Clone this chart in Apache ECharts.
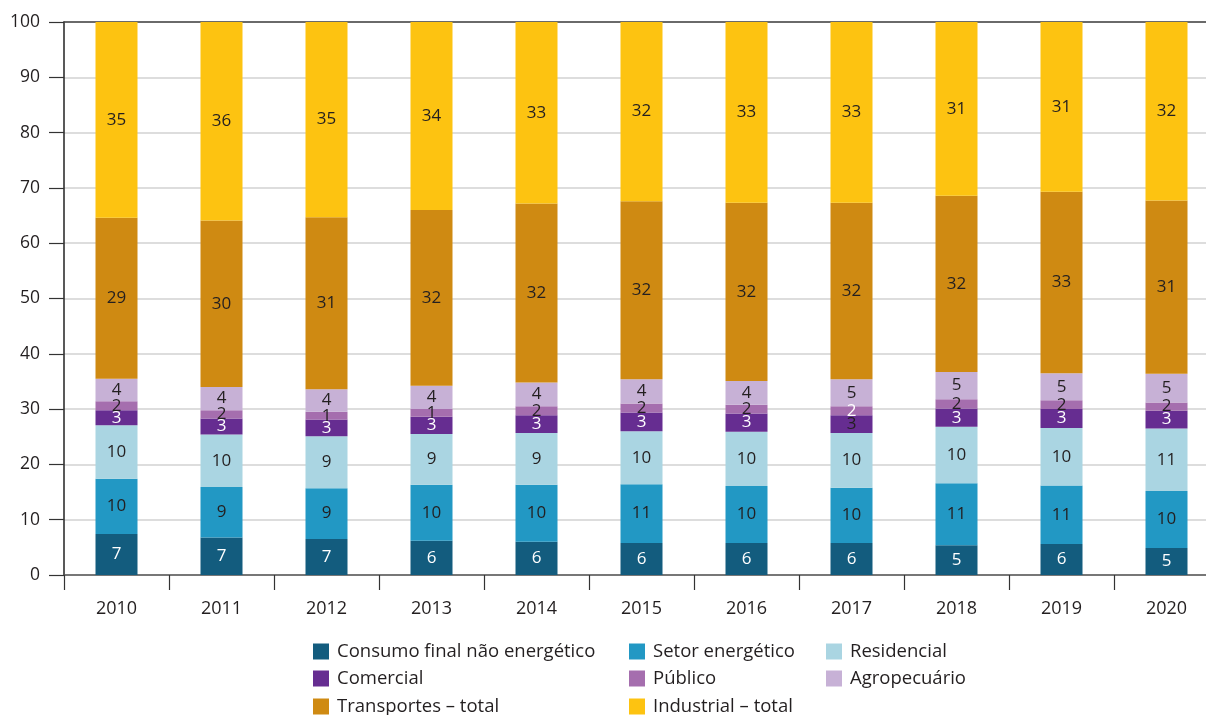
<!DOCTYPE html>
<html>
<head>
<meta charset="utf-8">
<script src="https://cdn.jsdelivr.net/npm/echarts@6/dist/echarts.min.js"></script>
<style>html,body{margin:0;padding:0;background:#fff}#c{width:1206px;height:715px}</style>
</head>
<body>
<div id="c"></div>
<script>
const years = ['2010','2011','2012','2013','2014','2015','2016','2017','2018','2019','2020'];
const consumoNaoEnergetico = [7.4, 6.8, 6.5, 6.2, 6.0, 5.8, 5.8, 5.8, 5.4, 5.6, 4.9];
const setorEnergetico      = [10.0, 9.1, 9.2, 10.1, 10.3, 10.6, 10.3, 10.0, 11.2, 10.6, 10.3];
const residencial          = [9.7, 9.5, 9.4, 9.2, 9.4, 9.6, 9.8, 9.9, 10.2, 10.4, 11.3];
const comercial            = [2.7, 2.9, 3.0, 3.1, 3.2, 3.4, 3.3, 3.2, 3.3, 3.4, 3.2];
const publico              = [1.6, 1.5, 1.4, 1.4, 1.6, 1.6, 1.6, 1.6, 1.7, 1.6, 1.5];
const agropecuario         = [4.1, 4.2, 4.1, 4.2, 4.3, 4.4, 4.3, 4.9, 4.9, 4.9, 5.2];
const transportes          = [29.1, 30.1, 31.1, 31.8, 32.4, 32.2, 32.2, 31.9, 31.9, 32.8, 31.3];
const industrial           = [35.4, 35.9, 35.3, 34.0, 32.8, 32.4, 32.7, 32.7, 31.4, 30.7, 32.3];
const yTicks = [0,10,20,30,40,50,60,70,80,90,100];

const seriesDefs = [
  {name:'Consumo final não energético', data:consumoNaoEnergetico, color:'#135c7e', lbl:'#ffffff'},
  {name:'Setor energético', data:setorEnergetico, color:'#2298c4', lbl:'#231f20'},
  {name:'Residencial', data:residencial, color:'#aad5e2', lbl:'#231f20'},
  {name:'Comercial', data:comercial, color:'#662d91', lbl:'#ffffff'},
  {name:'Público', data:publico, color:'#a56eae', lbl:'#231f20'},
  {name:'Agropecuário', data:agropecuario, color:'#c7b1d6', lbl:'#231f20'},
  {name:'Transportes – total', data:transportes, color:'#cf8a12', lbl:'#231f20'},
  {name:'Industrial – total', data:industrial, color:'#fdc311', lbl:'#231f20'}
];
// label colour exceptions as seen in the reference (2017)
const labelExceptions = {'Comercial':{7:'#231f20'}, 'Público':{7:'#ffffff'}};

// legend layout: [name, left, top]
const legendSlots = [
  ['Consumo final não energético', 313, 642],
  ['Setor energético', 629, 642],
  ['Residencial', 826, 642],
  ['Comercial', 313, 669],
  ['Público', 629, 669],
  ['Agropecuário', 826, 669],
  ['Transportes – total', 313, 697],
  ['Industrial – total', 629, 697]
];

const FONT = '"Open Sans", "Noto Sans", sans-serif';

const series = seriesDefs.map(s => ({
  name: s.name,
  type: 'bar',
  stack: 'total',
  barWidth: 42,
  xAxisIndex: 0,
  itemStyle: {color: s.color},
  label: {
    show: true, position: 'inside', color: s.lbl,
    fontFamily: FONT, fontSize: 17,
    formatter: p => Math.round(p.value)
  },
  data: s.data.map((v, i) => {
    const ex = labelExceptions[s.name] && labelExceptions[s.name][i];
    return ex ? {value: v, label: {color: ex}} : v;
  })
}));

const legends = legendSlots.map(([name, left, top]) => ({
  data: [name], left: left, top: top, padding: 0,
  itemWidth: 16, itemHeight: 16, icon: 'rect', selectedMode: false,
  textStyle: {fontFamily: FONT, fontSize: 18.5, color: '#231f20', padding: [0, 0, 0, 3]}
}));

const chart = echarts.init(document.getElementById('c'));
chart.setOption({
  animation: false,
  backgroundColor: '#fff',
  grid: {left: 64, width: 1155, top: 22, bottom: 140, containLabel: false, outerBoundsMode: 'none'},
  legend: legends,
  xAxis: [
    {
      type: 'category', data: years, position: 'bottom',
      axisLine: {lineStyle: {color: '#555', width: 1.5}},
      axisTick: {show: true, alignWithLabel: false, length: 15, lineStyle: {color: '#333', width: 1.2}},
      axisLabel: {fontFamily: FONT, fontSize: 18, color: '#231f20', margin: 25}
    },
    {
      type: 'category', data: years, position: 'top',
      axisLine: {show: true, lineStyle: {color: '#444', width: 1.5}},
      axisTick: {show: false}, axisLabel: {show: false}
    }
  ],
  yAxis: {
    type: 'value', min: 0, max: 100, interval: 10,
    axisLine: {show: true, lineStyle: {color: '#222', width: 1.5}},
    axisTick: {show: true, length: 15, lineStyle: {color: '#333', width: 1.2}},
    axisLabel: {fontFamily: FONT, fontSize: 17.5, color: '#231f20', margin: 24,
      formatter: v => yTicks.includes(v) ? String(v) : ''},
    splitLine: {lineStyle: {color: '#d2d2d2', width: 1.5}}
  },
  series: series
});
</script>
</body>
</html>
